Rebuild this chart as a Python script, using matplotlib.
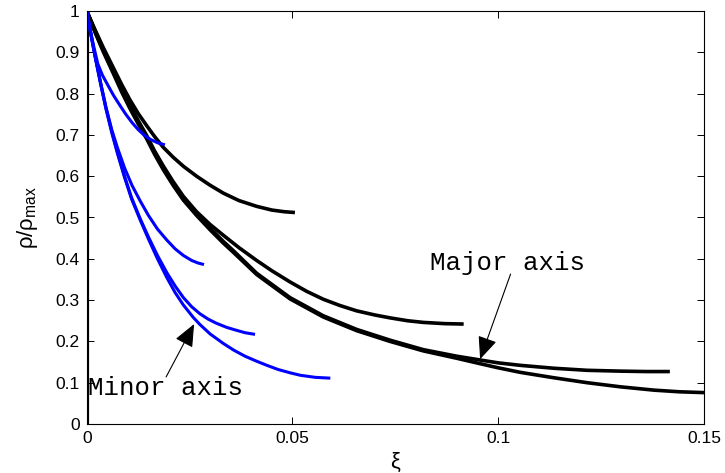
import matplotlib
matplotlib.use("Agg")
import matplotlib.pyplot as plt

# ---- data ----
# black curves (major axis)
xi_A  = [0, 0.0020, 0.0040, 0.0065, 0.0085, 0.0105, 0.0125, 0.0146, 0.0165, 0.0186, 0.0210, 0.0235, 0.0267,
         0.0300, 0.0332, 0.0370, 0.0413, 0.0450, 0.0480, 0.0506]
rho_A = [1, 0.955, 0.912, 0.862, 0.822, 0.785, 0.752, 0.722, 0.696, 0.670, 0.646, 0.624, 0.600,
         0.578, 0.559, 0.541, 0.527, 0.518, 0.514, 0.512]

xi_B  = [0, 0.0020, 0.0040, 0.0065, 0.0085, 0.0105, 0.0125, 0.0146, 0.0165, 0.0186, 0.0210, 0.0235, 0.0267,
         0.0300, 0.0332, 0.0370, 0.0413, 0.0450, 0.0494, 0.0535, 0.0575, 0.0615, 0.0656, 0.0700, 0.0737,
         0.0780, 0.0818, 0.0870, 0.0916]
rho_B = [1, 0.953, 0.908, 0.856, 0.812, 0.772, 0.735, 0.698, 0.661, 0.625, 0.587, 0.551, 0.514,
         0.483, 0.457, 0.427, 0.396, 0.371, 0.344, 0.321, 0.302, 0.287, 0.274, 0.264, 0.257,
         0.250, 0.246, 0.243, 0.242]

xi_C  = [0, 0.0020, 0.0040, 0.0065, 0.0085, 0.0105, 0.0125, 0.0146, 0.0165, 0.0186, 0.0210, 0.0235, 0.0267,
         0.0300, 0.0332, 0.0356, 0.0413, 0.0494, 0.0575, 0.0656, 0.0737, 0.0818, 0.0900, 0.0956,
         0.1000, 0.1054, 0.1135, 0.1216, 0.1297, 0.1360, 0.1417]
rho_C = [1, 0.951, 0.905, 0.852, 0.808, 0.768, 0.731, 0.694, 0.657, 0.620, 0.582, 0.546, 0.509,
         0.474, 0.442, 0.420, 0.365, 0.306, 0.262, 0.229, 0.203, 0.180, 0.164, 0.155,
         0.148, 0.142, 0.135, 0.130, 0.128, 0.127, 0.127]

xi_D  = [0, 0.0020, 0.0040, 0.0065, 0.0085, 0.0105, 0.0125, 0.0146, 0.0165, 0.0186, 0.0210, 0.0235, 0.0267,
         0.0300, 0.0332, 0.0356, 0.0413, 0.0494, 0.0575, 0.0656, 0.0737, 0.0818, 0.0900, 0.0956,
         0.1000, 0.1054, 0.1135, 0.1216, 0.1297, 0.1378, 0.1440, 0.1500]
rho_D = [1, 0.949, 0.902, 0.848, 0.804, 0.764, 0.727, 0.690, 0.653, 0.616, 0.578, 0.542, 0.505,
         0.470, 0.438, 0.416, 0.362, 0.303, 0.259, 0.226, 0.200, 0.177, 0.159, 0.146,
         0.136, 0.125, 0.112, 0.100, 0.090, 0.082, 0.078, 0.076]

# blue curves (minor axis)
xi_E  = [0, 0.0010, 0.0018, 0.0027, 0.0038, 0.0050, 0.0065, 0.0081, 0.0095, 0.0110, 0.0125, 0.0140,
         0.0155, 0.0172, 0.0190]
rho_E = [1, 0.948, 0.910, 0.872, 0.845, 0.823, 0.796, 0.771, 0.750, 0.730, 0.713, 0.699,
         0.689, 0.681, 0.676]

xi_F  = [0, 0.0010, 0.0020, 0.0034, 0.0047, 0.0061, 0.0075, 0.0092, 0.0110, 0.0130, 0.0150, 0.0172,
         0.0195, 0.0215, 0.0235, 0.0255, 0.0270, 0.0285]
rho_F = [1, 0.945, 0.893, 0.825, 0.766, 0.712, 0.668, 0.620, 0.578, 0.540, 0.505, 0.472,
         0.445, 0.424, 0.408, 0.396, 0.390, 0.386]

xi_G  = [0, 0.0010, 0.0020, 0.0034, 0.0047, 0.0061, 0.0075, 0.0092, 0.0109, 0.0130, 0.0150, 0.0172,
         0.0195, 0.0215, 0.0235, 0.0255, 0.0275, 0.0295, 0.0315, 0.0340, 0.0360, 0.0385, 0.0409]
rho_G = [1, 0.945, 0.893, 0.825, 0.765, 0.708, 0.657, 0.600, 0.548, 0.497, 0.453, 0.408,
         0.366, 0.334, 0.306, 0.284, 0.267, 0.254, 0.244, 0.234, 0.228, 0.221, 0.217]

xi_H  = [0, 0.0010, 0.0020, 0.0034, 0.0047, 0.0061, 0.0075, 0.0092, 0.0109, 0.0130, 0.0150, 0.0172,
         0.0195, 0.0215, 0.0235, 0.0259, 0.0275, 0.0300, 0.0332, 0.0357, 0.0385, 0.0413, 0.0438,
         0.0465, 0.0494, 0.0519, 0.0555, 0.0592]
rho_H = [1, 0.944, 0.891, 0.822, 0.762, 0.705, 0.654, 0.597, 0.545, 0.494, 0.448, 0.400,
         0.354, 0.318, 0.288, 0.258, 0.241, 0.218, 0.195, 0.179, 0.164, 0.152, 0.142,
         0.132, 0.124, 0.118, 0.113, 0.111]

xi_axis  = [0, 0]
rho_axis = [0, 1]

x_ticks = [0, 0.05, 0.1, 0.15]
x_tick_labels = ["0", "0.05", "0.1", "0.15"]
y_ticks = [0, 0.1, 0.2, 0.3, 0.4, 0.5, 0.6, 0.7, 0.8, 0.9, 1]
y_tick_labels = ["0", "0.1", "0.2", "0.3", "0.4", "0.5", "0.6", "0.7", "0.8", "0.9", "1"]

# ---- figure ----
W, H = 725, 473
fig = plt.figure(figsize=(W / 100, H / 100), dpi=100)
ax = fig.add_axes([86.7 / W, (H - 424) / H, (704 - 86.7) / W, (424 - 11) / H])

plt.rcParams['font.family'] = ['Liberation Sans', 'DejaVu Sans']

blk_lw = 2.6
blu_lw = 2.2
for x, y in [(xi_A, rho_A), (xi_B, rho_B), (xi_C, rho_C), (xi_D, rho_D)]:
    ax.plot(x, y, color='black', lw=blk_lw, solid_capstyle='butt', solid_joinstyle='round')
ax.plot(xi_axis, rho_axis, color='black', lw=3.0)
for x, y in [(xi_E, rho_E), (xi_F, rho_F), (xi_G, rho_G), (xi_H, rho_H)]:
    ax.plot(x, y, color=(0, 0, 1), lw=blu_lw, solid_capstyle='butt', solid_joinstyle='round')

ax.set_xlim(0, 0.15)
ax.set_ylim(0, 1)
ax.set_xticks(x_ticks)
ax.set_xticklabels(x_tick_labels, family='Liberation Sans')
ax.set_yticks(y_ticks)
ax.set_yticklabels(y_tick_labels, family='Liberation Sans')
ax.tick_params(direction='in', length=5, width=0.7, labelsize=12.5,
               top=True, right=True, pad=5)
for s in ax.spines.values():
    s.set_linewidth(0.8)

ax.set_xlabel('ξ', fontsize=16, family='Liberation Sans', labelpad=4)
ax.set_ylabel('ρ/ρ$_{\\mathregular{max}}$', fontsize=16, family='Liberation Sans', labelpad=11)

mono = 'Liberation Mono'
arrow = dict(arrowstyle='-|>,head_length=0.7,head_width=0.3', lw=0.8, color='black',
             shrinkA=0, shrinkB=0, mutation_scale=20)
ax.annotate('', xy=(0.0261, 0.242), xytext=(0.0193, 0.114), arrowprops=arrow)
ax.text(0.0002, 0.088, 'Minor axis', family=mono, fontsize=18.5, ha='left', va='center')
ax.annotate('', xy=(0.0956, 0.157), xytext=(0.1030, 0.363), arrowprops=arrow)
ax.text(0.0835, 0.391, 'Major axis', family=mono, fontsize=18.5, ha='left', va='center')

fig.savefig('out.png', dpi=100)
